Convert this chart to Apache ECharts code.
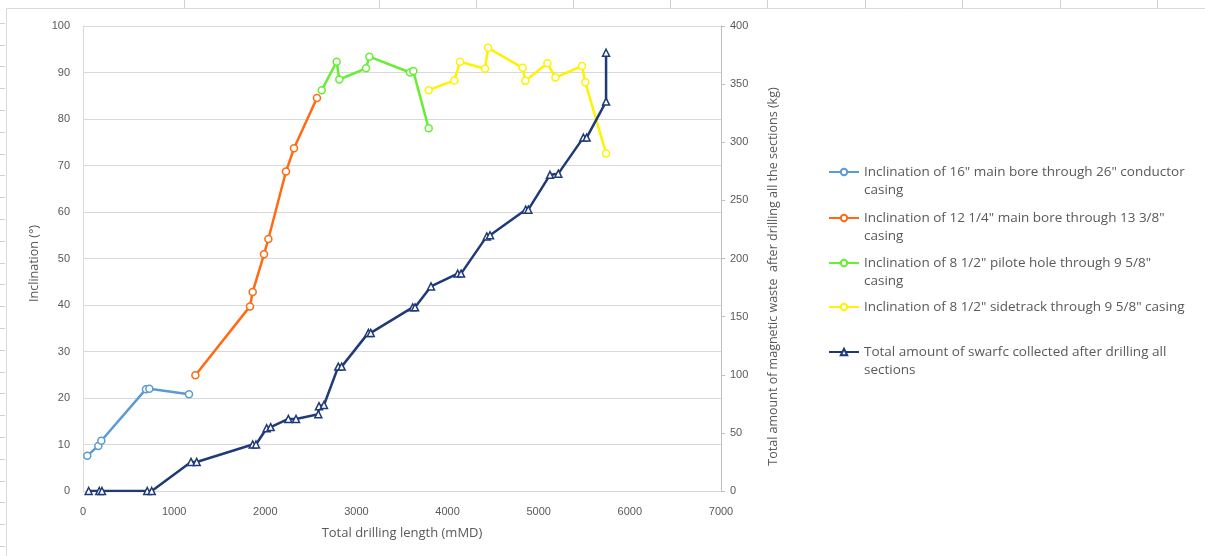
<!DOCTYPE html>
<html>
<head>
<meta charset="utf-8">
<script src="https://cdn.jsdelivr.net/npm/echarts@6/dist/echarts.min.js"></script>
<style>
  html, body { margin: 0; padding: 0; background: #fff; }
  #chart { width: 1205px; height: 556px; }
</style>
</head>
<body>
<div id="chart"></div>
<script>
// Drilling length (mMD) and inclination (deg) per section
const mainBore16X = [47, 168, 201, 691, 728, 1163];
const mainBore16Y = [7.6, 9.7, 10.8, 21.9, 22.0, 20.8];

const mainBore1214X = [1233, 1832, 1862, 1986, 2034, 2227, 2315, 2567];
const mainBore1214Y = [24.9, 39.7, 42.8, 50.9, 54.2, 68.7, 73.7, 84.5];

const pilotHoleX = [2619, 2783, 2812, 3105, 3142, 3588, 3624, 3793];
const pilotHoleY = [86.2, 92.3, 88.5, 90.9, 93.4, 90.0, 90.3, 78.0];

const sidetrackX = [3793, 4074, 4137, 4411, 4444, 4824, 4853, 5095, 5183, 5475, 5511, 5739];
const sidetrackY = [86.2, 88.3, 92.3, 90.8, 95.3, 91.0, 88.2, 92.0, 88.9, 91.4, 87.9, 72.6];

// Cumulative swarf collected (kg)
const swarfX = [62, 179, 208, 705, 754, 1185, 1247, 1862, 1898, 2015, 2059, 2253, 2337, 2582, 2589, 2644,
                2801, 2838, 3131, 3157, 3617, 3643, 3818, 4111, 4148, 4430, 4466, 4857, 4886, 5124, 5215,
                5490, 5526, 5739, 5739];
const swarfY = [0, 0, 0, 0, 0, 25, 25, 40, 40, 54, 55, 62, 62, 66, 73, 74,
                107, 107, 136, 136, 158, 158, 176, 187, 187, 219, 220, 242, 242, 272, 273,
                304, 304, 335, 377];

const seriesNames = [
  'Inclination of 16" main bore through 26" conductor casing',
  'Inclination of 12 1/4" main bore through 13 3/8" casing',
  'Inclination of 8 1/2" pilote hole through 9 5/8" casing',
  'Inclination of 8 1/2" sidetrack through 9 5/8" casing',
  'Total amount of swarfc collected after drilling all sections'
];
const legendLabels = [
  'Inclination of 16" main bore through 26" conductor\ncasing',
  'Inclination of 12 1/4" main bore through 13 3/8"\ncasing',
  'Inclination of 8 1/2" pilote hole through 9 5/8"\ncasing',
  'Inclination of 8 1/2" sidetrack through 9 5/8" casing',
  'Total amount of swarfc collected after drilling all\nsections'
];
const colors = ['#5B9BD5', '#FF6A13', '#66EE33', '#FFF200', '#1F3A78'];

const xTicks = { min: 0, max: 7000, interval: 1000 };
const leftTicks = { min: 0, max: 100, interval: 10 };
const rightTicks = { min: 0, max: 400, interval: 50 };

const zip = (xs, ys) => xs.map((x, i) => [x, ys[i]]);

const FONT = 'Liberation Sans';
const WIDE_FONT = 'Open Sans';
const TEXT = '#595959';
const GRID = '#D9D9D9';

const chart = echarts.init(document.getElementById('chart'), null, { renderer: 'canvas' });

function lineSeries(i, data, yAxisIndex, symbol, symbolSize) {
  return {
    name: seriesNames[i],
    type: 'line',
    yAxisIndex: yAxisIndex,
    data: data,
    symbol: symbol,
    symbolSize: symbolSize,
    showAllSymbol: true,
    lineStyle: { color: colors[i], width: 2.5 },
    itemStyle: { color: '#fff', borderColor: colors[i], borderWidth: 1.5 },
    emphasis: { disabled: true },
    animation: false,
    z: i === 4 ? 3 : 2
  };
}

// One legend block per entry; a leading blank line keeps the marker on the first text line
const legendTops = [145, 191, 236, 298, 325];
const legends = seriesNames.map((name, i) => {
  const wrapped = legendLabels[i].indexOf('\n') >= 0;
  return {
    data: [name],
    left: 828,
    top: legendTops[i],
    padding: 0,
    itemWidth: 30,
    itemHeight: 8,
    selectedMode: false,
    formatter: () => (wrapped ? ' \n' : '') + legendLabels[i],
    textStyle: {
      fontFamily: WIDE_FONT,
      fontSize: 13.5,
      color: TEXT,
      lineHeight: 18
    }
  };
});

// Sheet frame and cell rulers around the chart
const graphics = [
  { type: 'rect', shape: { x: 6.5, y: 8.5, width: 1300, height: 700 },
    style: { fill: 'none', stroke: '#D9D9D9', lineWidth: 1 }, silent: true }
];
[184, 379, 476, 573, 670, 767, 865, 962, 1060, 1157].forEach(x => {
  graphics.push({ type: 'line', shape: { x1: x + 0.5, y1: 0, x2: x + 0.5, y2: 8 },
    style: { stroke: '#D0D0D0', lineWidth: 1 }, silent: true });
});
for (let y = 22.7; y < 556; y += 21.8) {
  graphics.push({ type: 'line', shape: { x1: 0, y1: Math.round(y) + 0.5, x2: 5, y2: Math.round(y) + 0.5 },
    style: { stroke: '#D0D0D0', lineWidth: 1 }, silent: true });
}

chart.setOption({
  backgroundColor: '#fff',
  animation: false,
  textStyle: { fontFamily: FONT },
  grid: { left: 83, right: 484, top: 26, bottom: 65 },
  legend: legends,
  graphic: graphics,
  xAxis: {
    type: 'value',
    min: xTicks.min, max: xTicks.max, interval: xTicks.interval,
    name: 'Total drilling length (mMD)',
    nameLocation: 'middle',
    nameGap: 36,
    nameTextStyle: { fontFamily: WIDE_FONT, fontSize: 13, color: TEXT },
    axisLine: { show: true, lineStyle: { color: GRID, width: 1 } },
    axisTick: { show: false },
    axisLabel: { fontFamily: FONT, fontSize: 11, color: TEXT, margin: 15, formatter: v => String(v) },
    splitLine: { show: false }
  },
  yAxis: [
    {
      type: 'value',
      min: leftTicks.min, max: leftTicks.max, interval: leftTicks.interval,
      name: 'Inclination (°)',
      nameLocation: 'middle',
      nameGap: 38,
      nameRotate: 90,
      nameTextStyle: { fontFamily: WIDE_FONT, fontSize: 12.5, color: TEXT, padding: [0, 10, 0, 0] },
      axisLine: { show: true, lineStyle: { color: GRID, width: 1 } },
      axisTick: { show: false },
      axisLabel: { fontFamily: FONT, fontSize: 11, color: TEXT, margin: 13 },
      splitLine: { show: true, lineStyle: { color: GRID, width: 1 } }
    },
    {
      type: 'value',
      min: rightTicks.min, max: rightTicks.max, interval: rightTicks.interval,
      position: 'right',
      name: 'Total amount of magnetic waste  after drilling all the sections (kg)',
      nameLocation: 'middle',
      nameGap: 46,
      nameRotate: 90,
      nameTextStyle: { fontFamily: WIDE_FONT, fontSize: 12.5, color: TEXT, padding: [0, 36, 0, 0] },
      axisLine: { show: true, lineStyle: { color: '#BFBFBF', width: 1 } },
      axisTick: { show: true, length: 4, lineStyle: { color: '#BFBFBF' } },
      axisLabel: { fontFamily: FONT, fontSize: 11, color: TEXT, margin: 9 },
      splitLine: { show: false }
    }
  ],
  series: [
    lineSeries(0, zip(mainBore16X, mainBore16Y), 0, 'circle', 7),
    lineSeries(1, zip(mainBore1214X, mainBore1214Y), 0, 'circle', 7),
    lineSeries(2, zip(pilotHoleX, pilotHoleY), 0, 'circle', 7),
    lineSeries(3, zip(sidetrackX, sidetrackY), 0, 'circle', 7),
    lineSeries(4, zip(swarfX, swarfY), 1, 'triangle', 7)
  ]
});
</script>
</body>
</html>
